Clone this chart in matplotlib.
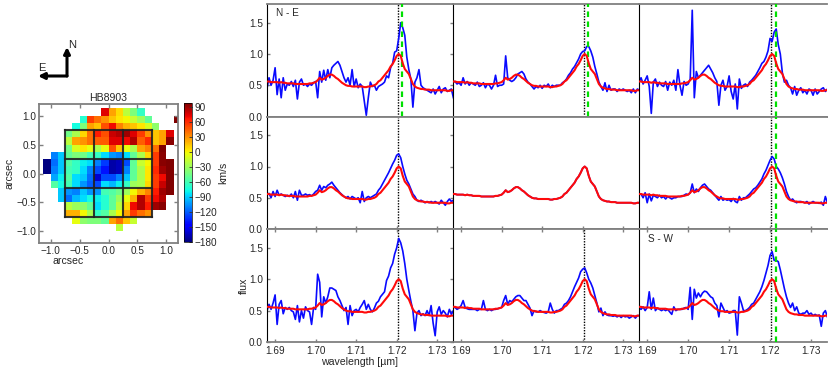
import matplotlib
matplotlib.use("Agg")
import matplotlib.pyplot as plt
import numpy as np

plt.rcParams["font.family"] = ["Liberation Sans", "DejaVu Sans"]
plt.rcParams["font.size"] = 7.2

W, H = 830, 372
N = np.nan

# velocity map, rows from the top, each starting at column map_start[row]
map_start = [8, 5, 4, 3, 3, 3, 1, 0, 0, 1, 1, 2, 2, 3, 3, 4, 10]
map_rows = [
    [75, 25, 8, -20, -40, -65],
    [-70, 55, 40, 30, 15, 5, 0, -15, -30, -50, N, N, N, 100],
    [-75, -40, 25, 15, 50, 70, 35, 20, 15, 5, -10, -35],
    [-45, -25, 10, 40, 65, 50, 80, 85, 90, 75, 55, 30, 15, 25, 75],
    [-20, 25, 30, 40, 45, 45, 75, 75, 70, 85, 45, 60, 15, 25, 95],
    [-45, -10, 5, -5, -25, -5, 50, 15, -5, -25, 25, 35, 40, 100],
    [-110, -90, -50, -40, -45, -60, -65, -85, -105, -110, -85, -50, -25, 10, 55, 95],
    [-180, -115, -90, -55, -65, -80, -85, -110, -130, -170, -165, -125, -50, -15, 0, 55, 95, 100],
    [-180, -110, -90, -60, -65, -85, -110, -125, -140, -170, -165, -110, -50, -25, 5, 60, 90, 100],
    [-100, -80, -55, -85, -90, -115, -160, -125, -125, -110, -90, -50, -25, 5, 55, 70, 100],
    [-55, -75, -60, -85, -105, -120, -125, -85, -95, -80, -65, -30, -25, 10, 55, 80, 100],
    [-90, -105, -110, -90, -105, -105, -60, -55, -45, -30, 0, 20, 35, 65, 90, 100],
    [-90, -115, -95, -85, -75, -80, -70, -50, -30, -5, 20, 85, 55, 70, 85],
    [-20, -30, -35, -50, -85, -70, -50, -20, 10, 70, 85, 65, 90, 95],
    [20, 20, 0, -25, -65, -55, -25, 0, 25, 55, 40, 30],
    [-5, -35, -40, -40, -50, 25, 40, 15, -15],
    [-20],
]
cbar_ticks = [-180, -150, -120, -90, -60, -30, 0, 30, 60, 90]

# spectra, 0.0005 um per value starting at 1.688 um
wave_start = 1.688
wave_step = 0.0005

red = [
    .56, .56, .55, .55, .55, .55, .54, .55, .54, .54,
    .53, .53, .53, .53, .52, .52, .52, .52, .52, .52,
    .52, .53, .53, .54, .55, .58, .62, .59, .60, .62,
    .65, .67, .67, .65, .62, .60, .57, .54, .52, .50,
    .49, .49, .48, .48, .48, .48, .48, .48, .47, .47,
    .48, .48, .49, .50, .52, .56, .58, .62, .66, .70,
    .74, .80, .84, .90, .97, 1.0, .97, .85, .76, .72,
    .68, .60, .52, .48, .46, .45, .44, .44, .43, .43,
    .43, .42, .42, .42, .42, .42, .42, .42, .42, .41,
    .41, .42, .42,
]
blue_ne = [
    .45, .62, .50, .58, .78, .35, .60, .30, .62, .42,
    .52, .50, .56, .48, .58, .28, .55, .60, .50, .52,
    .48, .52, .50, .54, .56, .30, .72, .55, .74, .58,
    .75, .62, .78, .82, .85, .88, .82, .72, .62, .55,
    .62, .50, .75, .48, .60, .46, .52, .48, .25, .02,
    .30, .55, .48, .50, .42, .48, .50, .52, .55, .65,
    .62, .78, .85, 1.03, 1.05, 1.25, 1.50, 1.42, 1.30, .95,
    .75, .60, .15, .55, .62, .75, .50, .46, .44, .42,
    .40, .38, .44, .36, .42, .48, .38, .44, .46, .40,
    .42, .44, .30,
]
blue_n = [
    .55, .56, .52, .54, .50, .62, .52, .56, .50, .54,
    .52, .50, .55, .48, .50, .54, .46, .52, .50, .44,
    .50, .66, .48, .50, .50, .52, .97, .62, .58, .56,
    .58, .62, .68, .70, .72, .68, .60, .55, .52, .48,
    .44, .48, .46, .50, .45, .50, .48, .52, .46, .50,
    .48, .50, .50, .50, .54, .56, .60, .66, .70, .76,
    .80, .86, .92, 1.0, 1.04, 1.05, 1.12, 1.12, 1.05, .95,
    .80, .68, .55, .48, .42, .54, .40, .50, .42, .44,
    .44, .40, .44, .42, .44, .42, .40, .42, .38, .44,
    .38, .44, .42,
]
blue_nw = [
    .55, .62, .52, .58, .65, .48, .05, .55, .60, .48,
    .55, .50, .48, .56, .42, .55, .50, .58, .42, .75,
    .50, .34, .56, .50, .52, .60, 1.70, .30, .72, .62,
    .66, .70, .74, .78, .82, .76, .70, .62, .56, .18,
    .50, .58, .42, .48, .65, .40, .28, .52, .12, .60,
    .45, .50, .52, .48, .55, .58, .62, .66, .72, .78,
    .85, .88, .95, 1.05, 1.25, 1.20, 1.35, 1.40, 1.15, 1.0,
    .70, .55, .58, .50, .46, .36, .48, .34, .42, .46,
    .38, .42, .36, .44, .42, .34, .44, .36, .40, .44,
    .46, .40, .44,
]
blue_e = [
    .54, .57, .50, .60, .52, .62, .54, .56, .54, .52,
    .54, .52, .56, .50, .60, .46, .62, .54, .54, .56,
    .54, .55, .53, .56, .60, .62, .70, .62, .68, .66,
    .70, .72, .75, .70, .66, .62, .58, .55, .52, .50,
    .52, .48, .52, .50, .48, .50, .42, .60, .44, .50,
    .52, .50, .52, .54, .56, .62, .66, .72, .78, .84,
    .90, .97, 1.04, 1.10, 1.18, 1.20, 1.14, 1.0, .88, .78,
    .72, .64, .56, .52, .46, .44, .46, .44, .42, .44,
    .42, .44, .42, .44, .42, .40, .46, .42, .38, .44,
    .48, .44, .46,
]
blue_w = [
    .55, .56, .50, .58, .42, .56, .45, .54, .52, .50,
    .54, .50, .52, .48, .52, .50, .48, .50, .50, .52,
    .52, .52, .54, .56, .55, .58, .72, .58, .64, .60,
    .66, .70, .72, .68, .64, .62, .58, .54, .50, .46,
    .52, .46, .48, .46, .47, .44, .49, .44, .42, .52,
    .46, .50, .50, .53, .56, .60, .64, .66, .70, .75,
    .80, .88, .94, 1.02, 1.10, 1.16, 1.12, 1.0, .96, .90,
    .82, .72, .60, .52, .46, .48, .44, .42, .44, .44,
    .43, .42, .44, .40, .42, .44, .42, .42, .41, .43,
    .38, .52, .42,
]
blue_se = [
    .50, .60, .52, .62, .75, .28, .60, .66, .45, .55,
    .52, .55, .50, .48, .36, .58, .32, .50, .38, .56,
    .50, .48, .28, .55, .52, 1.08, .95, .40, .72, .62,
    .72, .86, .86, .84, .82, .72, .66, .58, .50, .55,
    .28, .58, .42, .50, .52, .48, .55, .60, .66, .52,
    .60, .52, .48, .54, .62, .65, .72, .76, .80, .98,
    1.05, 1.18, 1.25, 1.40, 1.50, 1.65, 1.58, 1.45, 1.25, 1.0,
    .82, .65, .50, .18, .46, .50, .42, .45, .42, .50,
    .42, .58, .30, .10, .48, .56, .44, .50, .46, .40,
    .52, .44, .50,
]
blue_s = [
    .55, .55, .52, .54, .58, .66, .55, .53, .52, .52,
    .52, .52, .50, .52, .52, .66, .52, .50, .52, .50,
    .52, .52, .53, .54, .55, .66, .74, .60, .66, .64,
    .68, .72, .74, .74, .70, .66, .66, .60, .54, .42,
    .50, .48, .48, .50, .48, .47, .46, .48, .62, .52,
    .46, .50, .50, .52, .54, .60, .62, .66, .72, .80,
    .88, .95, 1.02, 1.12, 1.16, 1.18, 1.10, 1.0, .94, .86,
    .74, .62, .48, .54, .42, .48, .43, .42, .42, .41,
    .42, .40, .42, .39, .42, .40, .41, .38, .40, .42,
    .38, .42, .42,
]
blue_sw = [
    .54, .52, .56, .50, .55, .80, .52, .70, .50, .54,
    .52, .50, .52, .50, .52, .48, .44, .56, .50, .52,
    .52, .52, .54, .55, .52, .87, .36, .84, .70, .78,
    .72, .78, .81, .80, .76, .72, .70, .62, .58, .40,
    .62, .55, .48, .50, .46, .47, .50, .50, .11, .72,
    .62, .50, .50, .52, .55, .60, .62, .68, .74, .80,
    .88, .98, 1.10, 1.22, 1.38, 1.44, 1.30, 1.30, 1.28, 1.15,
    1.0, .85, .72, .62, .55, .62, .50, .56, .46, .44,
    .46, .46, .50, .44, .46, .42, .44, .42, .43, .25,
    .46, .50, .40,
]
panels = [blue_ne, blue_n, blue_nw, blue_e, red, blue_w, blue_se, blue_s, blue_sw]
green_panels = [0, 1, 2, 5, 8]
no_dotted = [4]
wave_rest = 1.7203
wave_shift = 1.7214
wave_ticks = [1.69, 1.70, 1.71, 1.72, 1.73]
flux_ticks = [0.0, 0.5, 1.0, 1.5]

GREY = "#808080"
TXT = "#262626"


def px_axes(fig, x0, y0, x1, y1):
    # pixel box with y counted from the top
    return fig.add_axes([x0 / W, 1 - y1 / H, (x1 - x0) / W, (y1 - y0) / H])


fig = plt.figure(figsize=(W / 100, H / 100), dpi=100)

# velocity map
vel = np.full((17, 19), N)
for r, (start, vals) in enumerate(zip(map_start, map_rows)):
    vel[r, start:start + len(vals)] = vals

ax = px_axes(fig, 39, 104, 178, 243)
xe = -1.125 + 0.125 * np.arange(20)
ye = 1.125 - 0.125 * np.arange(18)
mesh = ax.pcolormesh(xe, ye, vel, cmap="jet", vmin=-180, vmax=98)
for v in (-0.75, -0.25, 0.25, 0.75):
    ax.plot([v, v], [-0.75, 0.75], color="#222222", lw=1.5, alpha=0.9)
    ax.plot([-0.75, 0.75], [v, v], color="#222222", lw=1.5, alpha=0.9)
ax.set_xlim(-1.2, 1.2)
ax.set_ylim(-1.2, 1.2)
ax.set_xticks([-1, -0.5, 0, 0.5, 1])
ax.set_yticks([-1, -0.5, 0, 0.5, 1])
ax.tick_params(direction="in", length=3, width=1, color=GREY, labelcolor=TXT,
               top=True, right=True, pad=2)
for s in ax.spines.values():
    s.set_color(GREY)
    s.set_linewidth(1.3)
ax.set_title("HB8903", fontsize=7.6, color=TXT, pad=2)
fig.text(68 / W, 1 - 261 / H, "arcsec", ha="center", va="center", fontsize=7.6, color=TXT)
fig.text(9.5 / W, 1 - 173 / H, "arcsec", ha="center", va="center", rotation=90, fontsize=7.6, color=TXT)

cax = px_axes(fig, 184, 103, 192, 242)
cb = fig.colorbar(mesh, cax=cax, ticks=cbar_ticks)
cb.ax.tick_params(direction="in", length=2.5, width=0.6, color="#333333", labelcolor=TXT, pad=2)
cb.outline.set_linewidth(0.5)
fig.text(223 / W, 1 - 173 / H, "km/s", ha="center", va="center", rotation=90, fontsize=7.6, color=TXT)

# north/east arrows
for end in [(67, 47), (38, 76)]:
    fig.add_artist(matplotlib.patches.FancyArrowPatch(
        (67 / W, 1 - 76 / H), (end[0] / W, 1 - end[1] / H), transform=fig.transFigure,
        arrowstyle="-|>", mutation_scale=9, color="black", lw=2.2, shrinkA=0, shrinkB=0))
fig.text(72 / W, 1 - 45 / H, "N", ha="center", va="center", fontsize=8, color=TXT)
fig.text(42 / W, 1 - 68 / H, "E", ha="center", va="center", fontsize=8, color=TXT)

# spectra grid
col_edges = [267, 453, 639, 827]
row_edges = [(4, 116.5), (116.5, 229), (229, 342)]

for i, blue in enumerate(panels):
    r, c = divmod(i, 3)
    ax = px_axes(fig, col_edges[c], row_edges[r][0], col_edges[c + 1], row_edges[r][1])
    wave = wave_start + wave_step * np.arange(len(blue))
    if i not in no_dotted:
        ax.axvline(wave_rest, color="black", lw=1, ls=(0, (1, 1)), zorder=1)
    ax.plot(wave, blue, color="#0a0aff", lw=1.2, zorder=2)
    if i in green_panels:
        ax.axvline(wave_shift, color="#00e000", lw=1.6, ls=(0, (2.5, 2)), zorder=3)
    ax.plot(wave, red, color="#ff0a0a", lw=1.5, zorder=4)
    ax.set_xlim(1.688, 1.7339)
    ax.set_ylim(0, 1.8)
    ax.set_xticks(wave_ticks)
    ax.set_yticks(flux_ticks)
    ax.tick_params(axis="both", direction="in", length=2.5, width=1, color=GREY,
                   labelcolor=TXT, pad=3)
    ax.tick_params(axis="y", left=c == 0, right=c == 0, labelleft=c == 0)
    ax.tick_params(axis="x", bottom=r >= 1, top=r == 2, labelbottom=r == 2)
    ax.yaxis.set_major_formatter(matplotlib.ticker.FormatStrFormatter("%.1f"))
    ax.xaxis.set_major_formatter(matplotlib.ticker.FormatStrFormatter("%.2f"))
    for name in ("top", "bottom"):
        ax.spines[name].set_color(GREY)
        ax.spines[name].set_linewidth(1.3)
    ax.spines["left"].set_color("black")
    ax.spines["left"].set_linewidth(0.8)
    ax.spines["right"].set_visible(False)

fig.text(276 / W, 1 - 13 / H, "N - E", ha="left", va="center", fontsize=7.2, color=TXT)
fig.text(648 / W, 1 - 239 / H, "S - W", ha="left", va="center", fontsize=7.2, color=TXT)
fig.text(244 / W, 1 - 286 / H, "flux", ha="center", va="center", rotation=90, fontsize=7.6, color=TXT)
fig.text(360 / W, 1 - 362 / H, "wavelength [µm]", ha="center", va="center", fontsize=7.6, color=TXT)

fig.savefig("out.png", dpi=100)
